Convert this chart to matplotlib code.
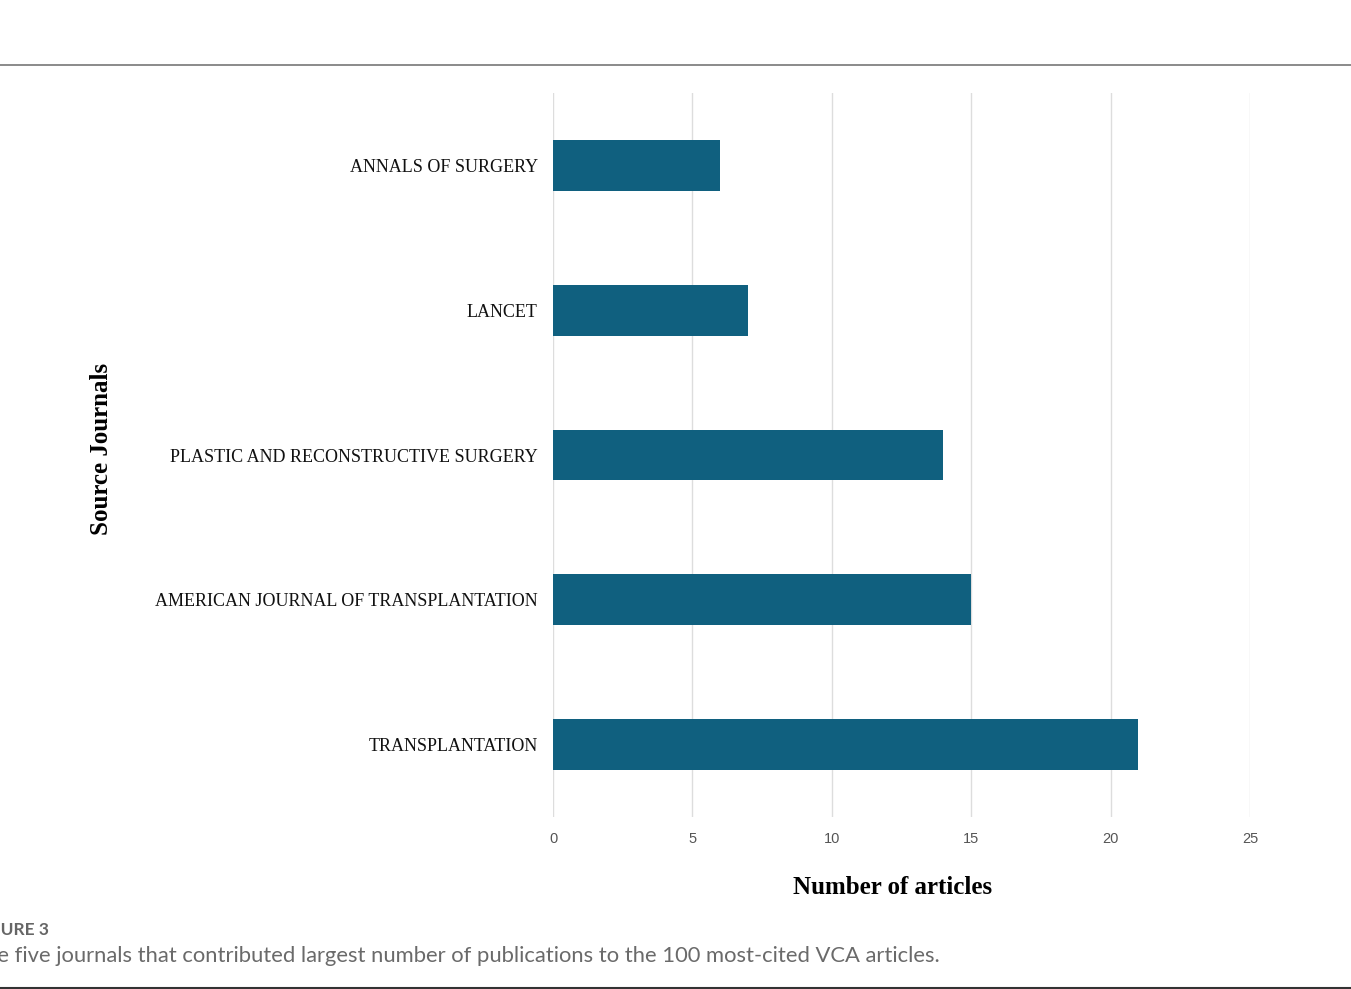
import matplotlib.pyplot as plt
from matplotlib.lines import Line2D

journals = ['TRANSPLANTATION', 'AMERICAN JOURNAL OF TRANSPLANTATION',
            'PLASTIC AND RECONSTRUCTIVE SURGERY', 'LANCET', 'ANNALS OF SURGERY']
articles = [21, 15, 14, 7, 6]
xticks = [0, 5, 10, 15, 20, 25]

W, H = 1351, 989
fig = plt.figure(figsize=(W / 100, H / 100), dpi=100)
ax = fig.add_axes([553 / W, 1 - 817 / H, (1250 - 553) / W, (817 - 93) / H])

ax.barh(range(len(journals)), articles, height=0.35, color='#10607f', zorder=3)
ax.set_xlim(0, 25)
ax.set_ylim(-0.5, 4.5)
ax.set_xticks(xticks)
ax.set_yticks(range(len(journals)))
ax.set_yticklabels(journals, family='Liberation Serif', fontsize=13, color='#111111')
ax.tick_params(axis='x', length=0, pad=11, labelsize=10.5, labelcolor='#555555')
ax.tick_params(axis='y', length=0, pad=11)
for t in ax.get_xticklabels():
    t.set_family('Liberation Sans')
ax.grid(axis='x', color='#dddddd', linewidth=1, zorder=0)
for s in ax.spines.values():
    s.set_visible(False)

# axis titles placed in figure pixels
fig.text(893 / W, 1 - 888 / H, 'Number of articles', family='Liberation Serif',
         fontsize=18, fontweight='bold', ha='center', va='center')
fig.text(101 / W, 1 - 449 / H, 'Source Journals', family='Liberation Serif',
         fontsize=18, fontweight='bold', ha='center', va='center', rotation=90)

fig.add_artist(Line2D([0, 1], [1 - 65 / H, 1 - 65 / H], color='#777777', linewidth=1.2))
fig.add_artist(Line2D([0, 1], [1 - 988 / H, 1 - 988 / H], color='#333333', linewidth=1.5))

fig.text(-0.02, 1 - 930 / H, 'FIGURE 3', family='Lato', fontsize=12.5, fontweight='bold',
         color='#666666', va='center')
fig.text(-0.021, 1 - 956 / H,
         'The five journals that contributed largest number of publications to the 100 most-cited VCA articles.',
         family='Lato', fontsize=15.8, color='#6a6a6a', va='center')

fig.savefig('out.png', dpi=100)
